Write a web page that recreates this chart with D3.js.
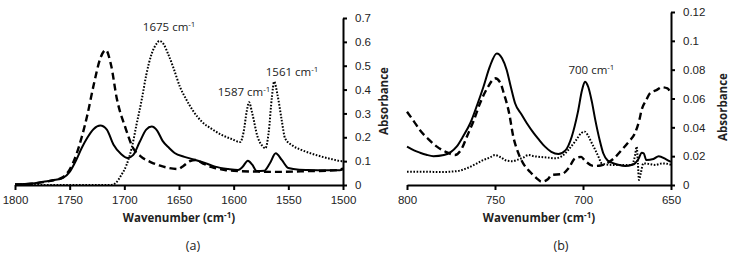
<!DOCTYPE html>
<html>
<head>
<meta charset="utf-8">
<script src="https://cdn.jsdelivr.net/npm/d3@7/dist/d3.min.js"></script>
<style>
  body { margin: 0; background: #fff; }
  svg { display: block; font-family: "Open Sans", sans-serif; }
  .tick text { font-size: 11.5px; fill: #222; }
  .domain, .tick line { stroke: #000; stroke-width: 2; }
  .ttl { font-size: 11.5px; font-weight: bold; fill: #222; }
  .lbl { font-size: 11.5px; fill: #222; }
  .tag { font-size: 12.5px; fill: #222; }
  .ser { fill: none; stroke: #000; }
</style>
</head>
<body>
<script>
var w = 732;
var h = 255;

// panel (a): 1800-1500 cm-1
var aXTicks = [1800, 1750, 1700, 1650, 1600, 1550, 1500];
var aYTicks = [0, 0.1, 0.2, 0.3, 0.4, 0.5, 0.6, 0.7];
var aYLabels = ["0", "0.1", "0.2", "0.3", "0.4", "0.5", "0.6", "0.7"];

var aSolid = [[1800,0.003],[1785,0.006],[1774,0.014],[1765,0.02],[1756,0.03],[1750,0.055],[1744,0.105],[1739,0.155],[1734,0.197],[1728,0.235],[1722,0.249],
  [1716,0.232],[1710,0.17],[1703,0.13],[1697,0.113],[1692,0.125],[1686,0.18],[1680,0.232],[1675,0.245],[1670,0.228],[1665,0.185],[1659,0.155],
  [1654,0.134],[1645,0.118],[1635,0.105],[1625,0.09],[1617,0.077],[1605,0.067],[1596,0.063],[1592,0.075],[1587,0.102],[1583,0.085],[1579,0.059],
  [1572,0.06],[1567,0.09],[1561.5,0.133],[1556,0.105],[1550,0.071],[1540,0.064],[1532,0.063],[1515,0.062],[1503,0.062],[1500,0.066]];

var aDashed = [[1800,0.002],[1785,0.005],[1774,0.012],[1765,0.02],[1756,0.033],[1750,0.065],[1744,0.126],[1739,0.2],[1734,0.29],[1728,0.42],[1722,0.53],
  [1717,0.566],[1712,0.5],[1707,0.365],[1699,0.24],[1692,0.155],[1685,0.12],[1676,0.096],[1668,0.082],[1661,0.073],[1651,0.067],[1646,0.08],
  [1640,0.1],[1635,0.105],[1628,0.09],[1620,0.075],[1608,0.063],[1595,0.058],[1578,0.056],[1560,0.055],[1545,0.056],[1532,0.058],[1515,0.06],
  [1503,0.064],[1500,0.07]];

var aDotted = [[1800,0],[1712,0],[1708,0.008],[1703,0.04],[1698,0.084],[1693,0.16],[1689,0.25],[1684,0.36],[1680,0.46],[1675,0.55],[1670,0.595],
  [1668,0.604],[1664,0.59],[1660,0.55],[1655,0.49],[1649,0.41],[1644,0.364],[1637,0.31],[1629,0.265],[1620,0.235],[1611,0.21],[1602,0.193],
  [1594,0.18],[1591,0.22],[1588,0.31],[1586,0.347],[1583,0.3],[1578,0.2],[1574,0.165],[1571,0.154],[1568,0.22],[1565,0.37],[1563,0.433],
  [1560,0.38],[1556,0.27],[1553,0.196],[1546,0.165],[1538,0.147],[1529,0.132],[1519.5,0.119],[1510,0.108],[1501,0.1],[1500,0.1]];

var aNotes = [["1675", 1659, 0.645], ["1587", 1590.5, 0.373], ["1561", 1546.6, 0.457]];

// panel (b): 800-650 cm-1
var bXTicks = [800, 750, 700, 650];
var bYTicks = [0, 0.02, 0.04, 0.06, 0.08, 0.1, 0.12];
var bYLabels = ["0", "0.02", "0.04", "0.06", "0.08", "0.1", "0.12"];

var bSolid = [[800,0.0266],[796,0.024],[792.6,0.0224],[789,0.021],[785,0.02],[779,0.0208],[775,0.023],[771.8,0.0266],[768,0.034],[764,0.043],
  [760,0.056],[756.6,0.068],[753,0.082],[749,0.0913],[746,0.088],[743.4,0.08],[741,0.068],[738.6,0.0567],[735,0.049],[732,0.043],[728,0.036],
  [725.4,0.032],[721.6,0.0266],[718,0.023],[714,0.0215],[710,0.024],[706.4,0.0335],[703,0.05],[700.5,0.066],[698.9,0.0717],[697,0.068],
  [695,0.058],[693,0.045],[690.5,0.031],[688.5,0.022],[686,0.017],[683.7,0.0155],[680,0.014],[676,0.0132],[672,0.014],[670.5,0.015],
  [668.5,0.018],[666.6,0.0224],[665.5,0.022],[664,0.0173],[660,0.018],[657,0.02],[653,0.018],[650,0.016]];

var bDashed = [[800,0.0508],[796,0.044],[792.6,0.038],[788,0.032],[783,0.0266],[778,0.023],[772.7,0.0208],[769,0.025],[766,0.0335],[762,0.045],
  [758.5,0.0567],[754,0.068],[750,0.074],[747,0.071],[745,0.0636],[742,0.05],[739.6,0.0335],[737,0.023],[734,0.015],[730,0.009],[726.3,0.0046],
  [723.5,0.0023],[720,0.004],[717.8,0.007],[712,0.0076],[708,0.012],[704.5,0.0185],[701,0.0195],[699,0.017],[694,0.0132],[690,0.0135],
  [686.5,0.015],[682,0.019],[678,0.0243],[674,0.03],[670.5,0.0359],[668,0.045],[666.7,0.052],[664,0.059],[662,0.0636],[658,0.066],
  [655.3,0.0678],[652,0.067],[650.6,0.0647],[650,0.063]];

var bDotted = [[800,0.0092],[790,0.0092],[780,0.009],[775.6,0.0092],[770,0.01],[766,0.0116],[761,0.0145],[756.6,0.0173],[753,0.019],[750,0.0208],
  [746.5,0.019],[743.4,0.0169],[740,0.0165],[737.7,0.0173],[734,0.019],[731,0.0208],[728,0.02],[725.4,0.0196],[720,0.019],[716,0.0185],
  [712,0.02],[708.4,0.0243],[704,0.031],[701,0.036],[699,0.037],[697,0.034],[695,0.029],[693,0.0243],[691,0.019],[689.4,0.015],[685,0.014],
  [681.8,0.0139],[676,0.0139],[672.3,0.0139],[670.5,0.02],[669.5,0.0266],[668.8,0.015],[668.2,0.0035],[667.2,0.008],[665.7,0.015],
  [662,0.0145],[659,0.0139],[655,0.015],[651.5,0.0146],[650,0.014]];

var bNotes = [["700", 695.2, 0.077]];

var svg = d3.select("body")
    .append("svg")
    .attr("width", w)
    .attr("height", h);

function panel(opt) {
  var x = d3.scaleLinear().domain(opt.xDomain).range(opt.xRange);
  var y = d3.scaleLinear().domain(opt.yDomain).range(opt.yRange);

  var line = d3.line()
      .x(function(d) { return x(d[0]); })
      .y(function(d) { return y(d[1]); })
      .curve(d3.curveMonotoneX);

  svg.append("path").datum(opt.dotted).attr("class", "ser")
      .attr("stroke-width", 2).attr("stroke-dasharray", "1.6,1.6").attr("d", line);
  svg.append("path").datum(opt.dashed).attr("class", "ser")
      .attr("stroke-width", 2.4).attr("stroke-dasharray", "7,4").attr("d", line);
  svg.append("path").datum(opt.solid).attr("class", "ser")
      .attr("stroke-width", 2).attr("d", line);

  svg.append("g")
      .attr("transform", "translate(0," + opt.yRange[0] + ")")
      .call(d3.axisBottom(x).tickValues(opt.xTicks).tickFormat(d3.format("d"))
        .tickSize(5).tickSizeOuter(0).tickPadding(6))
      .call(function(g) { g.selectAll("text").attr("font-family", null).attr("font-size", null); });

  svg.append("g")
      .attr("transform", "translate(" + opt.xRange[1] + ",0)")
      .call(d3.axisRight(y).tickValues(opt.yTicks)
        .tickFormat(function(d, i) { return opt.yLabels[i]; })
        .tickSize(4).tickSizeOuter(0).tickPadding(8))
      .call(function(g) { g.selectAll("text").attr("font-family", null).attr("font-size", null); });

  // axis titles
  var xt = svg.append("text").attr("class", "ttl")
      .attr("text-anchor", "middle")
      .attr("x", (opt.xRange[0] + opt.xRange[1]) / 2)
      .attr("y", 222);
  xt.append("tspan").text("Wavenumber (cm");
  xt.append("tspan").attr("font-size", "8px").attr("dy", -4).text("-1");
  xt.append("tspan").attr("dy", 4).text(")");

  svg.append("text").attr("class", "ttl")
      .attr("text-anchor", "middle")
      .attr("transform", "translate(" + opt.yTitleX + "," + opt.yTitleY + ") rotate(-90)")
      .attr("dy", "0.35em")
      .text("Absorbance");

  svg.append("text").attr("class", "tag")
      .attr("text-anchor", "middle")
      .attr("x", opt.tagX)
      .attr("y", 250)
      .text(opt.tag);

  opt.notes.forEach(function(n) {
    var t = svg.append("text").attr("class", "lbl")
        .attr("text-anchor", "middle")
        .attr("x", x(n[1]))
        .attr("y", y(n[2]));
    t.append("tspan").text(n[0] + " cm");
    t.append("tspan").attr("font-size", "8px").attr("dy", -4).text("-1");
  });
}

panel({
  xDomain: [1800, 1500], xRange: [15, 343],
  yDomain: [0, 0.7], yRange: [185, 18],
  xTicks: aXTicks, yTicks: aYTicks, yLabels: aYLabels,
  solid: aSolid, dashed: aDashed, dotted: aDotted, notes: aNotes,
  yTitleX: 384, yTitleY: 101, tag: "(a)", tagX: 193
});

panel({
  xDomain: [800, 650], xRange: [407, 671],
  yDomain: [0, 0.12], yRange: [185, 12],
  xTicks: bXTicks, yTicks: bYTicks, yLabels: bYLabels,
  solid: bSolid, dashed: bDashed, dotted: bDotted, notes: bNotes,
  yTitleX: 723, yTitleY: 107, tag: "(b)", tagX: 561
});
</script>
</body>
</html>
